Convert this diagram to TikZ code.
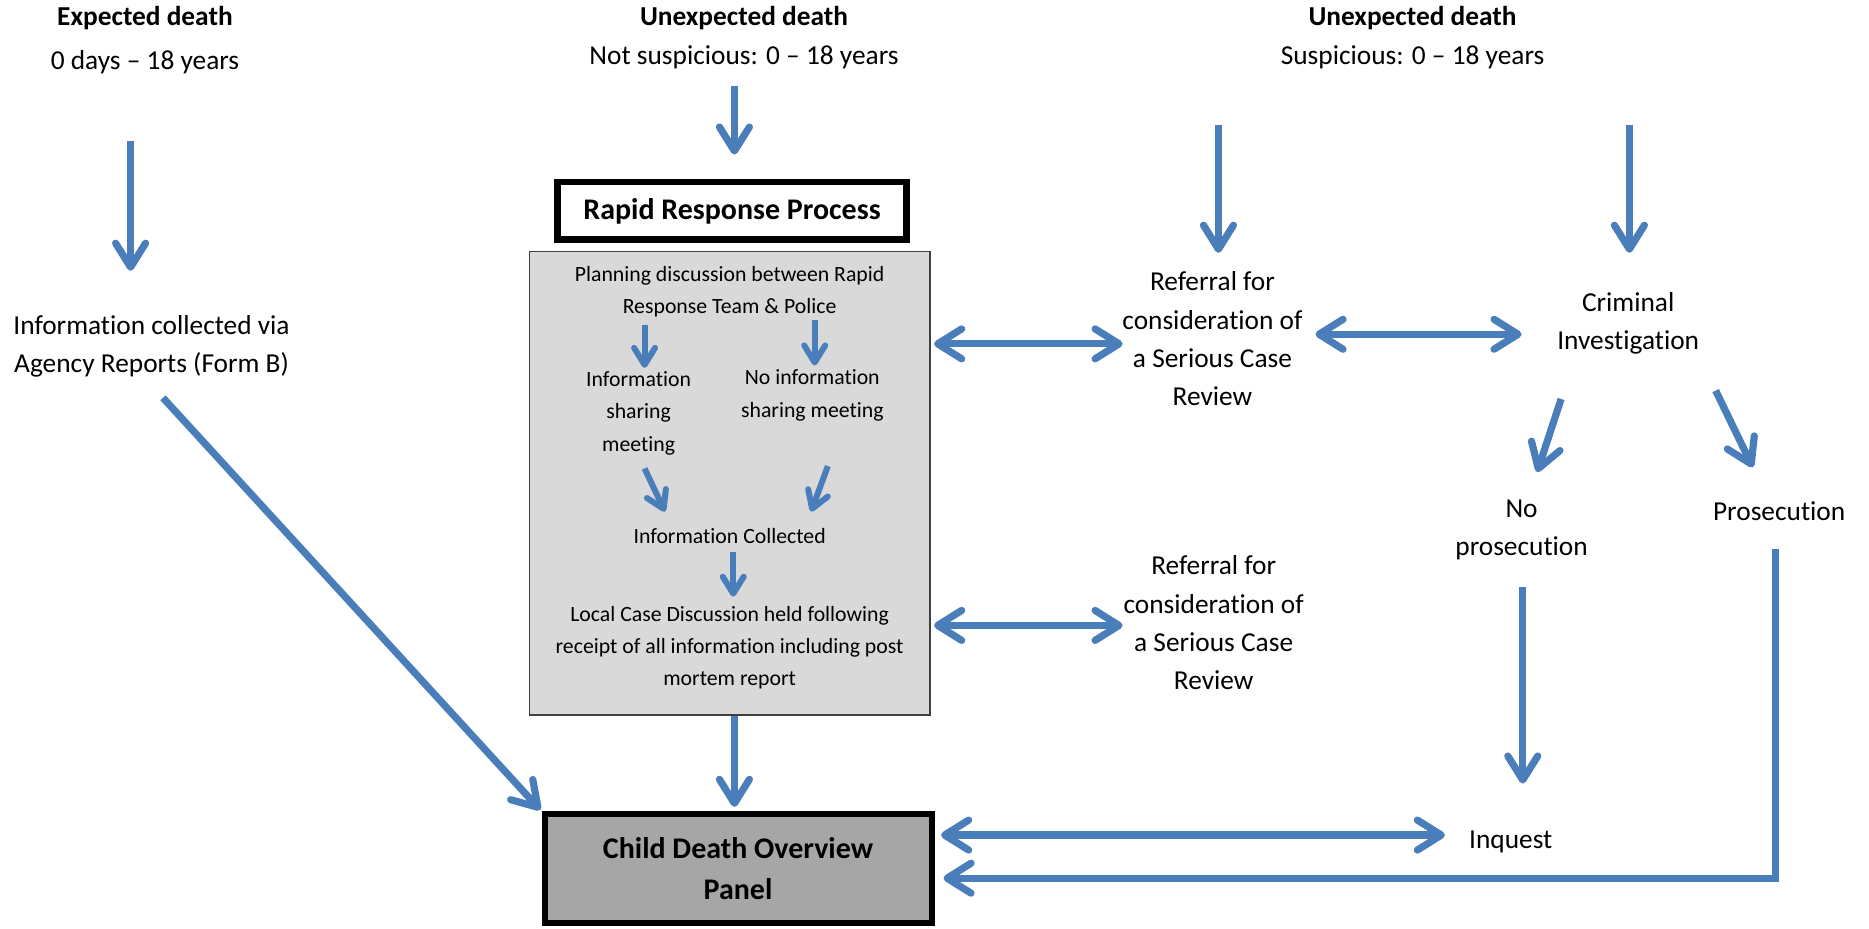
\documentclass[tikz,border=0pt]{standalone}
\usepackage{fontspec}
\setmainfont{Carlito}[Ligatures=NoCommon]
\usetikzlibrary{arrows.meta,calc}
\definecolor{arrblue}{HTML}{4A7EBB}
\definecolor{boxgrey}{HTML}{D9D9D9}
\definecolor{panelgrey}{HTML}{A6A6A6}
\definecolor{edgegrey}{HTML}{404040}
\tikzset{
  bigtip/.tip={Straight Barb[length=12pt,width=15pt,round]},
  smalltip/.tip={Straight Barb[length=8.5pt,width=10.5pt,round]},
  arr/.style={draw=arrblue,line width=3.6pt,arrows={-bigtip}},
  dbl/.style={draw=arrblue,line width=3.6pt,arrows={bigtip-bigtip}},
  iarr/.style={draw=arrblue,line width=3pt,arrows={-smalltip}},
  txt/.style={align=center,inner sep=0pt,font=\fontsize{13.7}{19.2}\selectfont},
  hdr/.style={inner sep=0pt,font=\bfseries\fontsize{13.7}{16}\selectfont},
  small/.style={align=center,inner sep=0pt,font=\fontsize{10.9}{16.2}\selectfont},
  boldbox/.style={draw=black,align=center,inner sep=0pt,font=\bfseries\fontsize{15}{20.7}\selectfont}
}
\begin{document}
\begin{tikzpicture}[x=0.6pt,y=-0.6pt]
\useasboundingbox[fill=white] (0,0) rectangle (1560,775);

% headers
\node[hdr] (h1) at (121,15) {Expected death};
\node[txt] (s1) at (121,51.5) {0 days – 18 years};
\node[hdr] (h2) at (621,15) {Unexpected death};
\node[txt] (s2) at (621,47.5) {Not suspicious: 0 – 18 years};
\node[hdr] (h3) at (1179,15) {Unexpected death};
\node[txt] (s3) at (1179,48) {Suspicious: 0 – 18 years};

% left column
\node[txt] (info) at (126.5,289) {Information collected via\\Agency Reports (Form B)};

% rapid response
\node[boldbox,line width=3.4pt,minimum width=175pt,minimum height=29pt] (tbox) at (611,176) {Rapid Response Process};
\node[draw=edgegrey,fill=boxgrey,line width=0.8pt,minimum width=200.4pt,minimum height=232.2pt,inner sep=0pt] (rrbox) at (609,403.5) {};
\node[small] (plan) at (609,243.5) {Planning discussion between Rapid\\Response Team \& Police};
\node[small] (ism) at (533,345) {Information\\sharing\\meeting};
\node[small] (nism) at (678,330) {No information\\sharing meeting};
\node[small] (ic) at (609,447.5) {Information Collected};
\node[small] (lcd) at (609,540.5) {Local Case Discussion held following\\receipt of all information including post\\mortem report};

% right side
\node[txt] (ref1) at (1012,283) {Referral for\\consideration of\\a Serious Case\\Review};
\node[txt] (ref2) at (1013,520) {Referral for\\consideration of\\a Serious Case\\Review};
\node[txt] (crim) at (1359,270) {Criminal\\Investigation};
\node[txt] (noprose) at (1270,442.5) {No\\prosecution};
\node[txt] (prose) at (1485,427) {Prosecution};
\node[txt] (inq) at (1261,703) {Inquest};

% panel
\node[boldbox,fill=panelgrey,line width=3pt,minimum width=193.8pt,minimum height=54.6pt] (cdop) at (616,725) {Child Death Overview\\Panel};

% top arrows
\draw[arr] ($(s1)+(-12,66.5)$) -- ($(info)+(-17.5,-63)$);
\draw[arr] ($(s2)+(-8,24.5)$) -- ($(tbox.north)+(2,-20)$);
\draw[arr] ($(s3)+(-162,56)$) -- ($(ref1)+(5,-72)$);
\draw[arr] ($(s3)+(181,56)$) -- ($(crim)+(1,-59)$);

% inner arrows
\draw[iarr] ($(plan)+(-71,27.5)$) -- ($(ism)+(5,-38)$);
\draw[iarr] ($(plan)+(71,23.5)$) -- ($(nism)+(2,-25)$);
\draw[iarr] ($(ism)+(5,46)$) -- ($(ic)+(-54,-20.5)$);
\draw[iarr] ($(nism)+(13,59)$) -- ($(ic)+(68,-20.5)$);
\draw[iarr] ($(ic)+(3,13.5)$) -- ($(lcd)+(3,-42.5)$);

% double arrows
\draw[dbl] ($(rrbox.east)+(3,-116.5)$) -- ($(ref1)+(-75,4)$);
\draw[dbl] ($(ref1)+(86,-4)$) -- ($(crim)+(-89,9)$);
\draw[dbl] ($(rrbox.east)+(3,118.5)$) -- ($(ref2)+(-76,2)$);
\draw[dbl] ($(cdop.east)+(5.5,-28)$) -- ($(inq)+(-55,-6)$);

% criminal branches
\draw[arr] ($(crim)+(-56,63)$) -- ($(noprose)+(13,-48.5)$);
\draw[arr] ($(crim)+(73,56)$) -- ($(prose)+(-22,-37)$);

% lower arrows
\draw[arr] ($(noprose)+(1,47.5)$) -- ($(inq)+(10,-49)$);
\draw[arr,line join=miter] ($(prose)+(-3,31)$) |- ($(cdop.east)+(7.5,8)$);
\draw[arr] ($(info)+(9.5,43)$) -- ($(cdop.north west)+(-1,-1)$);
\draw[arr] ($(rrbox.south)+(4,0)$) -- ($(cdop.north)+(-3,-3.5)$);
\end{tikzpicture}
\end{document}
